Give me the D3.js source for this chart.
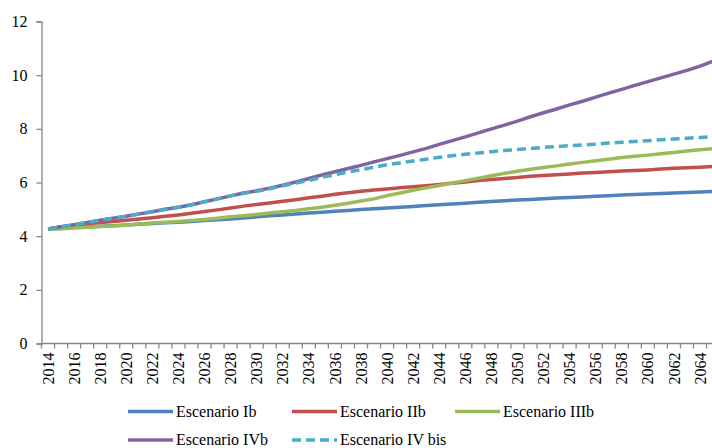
<!DOCTYPE html>
<html>
<head>
<meta charset="utf-8">
<script src="https://cdn.jsdelivr.net/npm/d3@7/dist/d3.min.js"></script>
<style>
  html, body { margin: 0; padding: 0; background: #fff; }
  svg { display: block; }
  text { font-family: "Liberation Serif", "Times New Roman", serif; fill: #000; }
</style>
</head>
<body>
<svg id="chart" width="712" height="448"></svg>
<script>
// Years on the horizontal axis (one band per year)
const years = d3.range(2014, 2066);

// Tick values on the vertical axis
const yTicks = [0, 2, 4, 6, 8, 10, 12];

// Series names as shown in the legend
const seriesNames = ["Escenario Ib", "Escenario IIb", "Escenario IIIb", "Escenario IVb", "Escenario IV bis"];

const escenarioIb = [
  4.27, 4.29, 4.32, 4.34, 4.37, 4.39, 4.42, 4.44, 4.47, 4.50,
  4.52, 4.55, 4.58, 4.61, 4.64, 4.68, 4.72, 4.76, 4.79, 4.83,
  4.86, 4.89, 4.93, 4.96, 4.99, 5.02, 5.05, 5.08, 5.11, 5.14,
  5.17, 5.20, 5.23, 5.26, 5.29, 5.32, 5.35, 5.37, 5.39, 5.42,
  5.44, 5.46, 5.49, 5.51, 5.53, 5.55, 5.57, 5.59, 5.61, 5.63,
  5.65, 5.67
];

const escenarioIIb = [
  4.27, 4.34, 4.40, 4.46, 4.51, 4.55, 4.59, 4.64, 4.69, 4.74,
  4.79, 4.85, 4.92, 4.98, 5.05, 5.12, 5.18, 5.24, 5.30, 5.36,
  5.43, 5.49, 5.56, 5.62, 5.67, 5.72, 5.76, 5.80, 5.84, 5.88,
  5.93, 5.97, 6.02, 6.07, 6.11, 6.15, 6.19, 6.23, 6.26, 6.29,
  6.32, 6.35, 6.37, 6.40, 6.43, 6.45, 6.47, 6.50, 6.53, 6.55,
  6.57, 6.60
];

const escenarioIIIb = [
  4.27, 4.28, 4.30, 4.33, 4.36, 4.38, 4.41, 4.45, 4.49, 4.52,
  4.55, 4.58, 4.62, 4.67, 4.72, 4.76, 4.81, 4.86, 4.91, 4.96,
  5.02, 5.08, 5.15, 5.23, 5.31, 5.39, 5.51, 5.61, 5.71, 5.80,
  5.89, 5.98, 6.07, 6.16, 6.25, 6.34, 6.42, 6.49, 6.56, 6.62,
  6.69, 6.75, 6.81, 6.87, 6.93, 6.98, 7.02, 7.07, 7.12, 7.17,
  7.22, 7.26
];

const escenarioIVb = [
  4.27, 4.35, 4.43, 4.51, 4.59, 4.67, 4.74, 4.83, 4.91, 5.00,
  5.08, 5.17, 5.28, 5.39, 5.50, 5.61, 5.69, 5.79, 5.90, 6.02,
  6.15, 6.28, 6.40, 6.52, 6.64, 6.77, 6.89, 7.01, 7.14, 7.27,
  7.42, 7.56, 7.70, 7.85, 8.00, 8.14, 8.29, 8.45, 8.60, 8.74,
  8.89, 9.03, 9.18, 9.33, 9.47, 9.62, 9.76, 9.90, 10.04, 10.18,
  10.34, 10.52
];

const escenarioIVbis = [
  4.27, 4.35, 4.43, 4.51, 4.59, 4.67, 4.74, 4.83, 4.91, 5.00,
  5.08, 5.17, 5.28, 5.39, 5.50, 5.60, 5.67, 5.77, 5.88, 5.98,
  6.08, 6.19, 6.29, 6.39, 6.48, 6.57, 6.66, 6.73, 6.80, 6.87,
  6.94, 7.00, 7.05, 7.10, 7.15, 7.19, 7.23, 7.27, 7.31, 7.34,
  7.37, 7.40, 7.43, 7.47, 7.50, 7.53, 7.56, 7.59, 7.62, 7.65,
  7.68, 7.70
];

const seriesValues = [escenarioIb, escenarioIIb, escenarioIIIb, escenarioIVb, escenarioIVbis];
const seriesColors = ["#4F81BD", "#C0504D", "#9BBB59", "#8064A2", "#4BACC6"];
const seriesDash = [null, null, null, null, "9,5"];

const svg = d3.select("#chart");

const plotLeft = 41.5, plotTop = 21.5, plotBottom = 343.5;
const band = 13.04;

const x = d3.scaleBand()
  .domain(years)
  .range([plotLeft, plotLeft + band * years.length])
  .padding(0);

const y = d3.scaleLinear()
  .domain([0, 12])
  .range([plotBottom, plotTop]);

const axisColor = "#868686";

// Vertical axis
const yAxis = svg.append("g")
  .attr("transform", `translate(${plotLeft},0)`)
  .call(d3.axisLeft(y).tickValues(yTicks).tickSize(5).tickPadding(9).tickFormat(d3.format("d")));
yAxis.select(".domain").attr("stroke", axisColor).attr("stroke-width", 1.3);
yAxis.selectAll(".tick line").attr("stroke", axisColor).attr("stroke-width", 1.3);
yAxis.selectAll(".tick text")
  .style("font-family", '"Liberation Serif", "Times New Roman", serif')
  .style("font-size", "16px")
  .attr("fill", "#000");

// Horizontal axis: ticks at band boundaries, labels every second year
const xAxisG = svg.append("g").attr("class", "x-axis");
xAxisG.append("line")
  .attr("x1", plotLeft).attr("x2", plotLeft + band * years.length)
  .attr("y1", plotBottom).attr("y2", plotBottom)
  .attr("stroke", axisColor).attr("stroke-width", 1.3);

const boundaries = years.map(yr => x(yr)).concat([x(years[years.length - 1]) + x.bandwidth()]);
xAxisG.selectAll("line.tick")
  .data(boundaries)
  .join("line")
  .attr("class", "tick")
  .attr("x1", d => d).attr("x2", d => d)
  .attr("y1", plotBottom).attr("y2", plotBottom + 5)
  .attr("stroke", axisColor).attr("stroke-width", 1.3);

const labelYears = years.filter(yr => (yr - 2014) % 2 === 0);
xAxisG.selectAll("text")
  .data(labelYears)
  .join("text")
  .attr("transform", d => `translate(${x(d) + x.bandwidth() / 2},${plotBottom + 9}) rotate(-90)`)
  .attr("text-anchor", "end")
  .attr("dy", "0.35em")
  .style("font-size", "16px")
  .text(d => d);

// Series lines
const line = d3.line()
  .x((d, i) => x(years[i]) + x.bandwidth() / 2)
  .y(d => y(d));

// IVb is drawn beneath the dashed IV bis
svg.append("g")
  .selectAll("path")
  .data(d3.range(seriesValues.length))
  .join("path")
  .attr("d", i => line(seriesValues[i]))
  .attr("fill", "none")
  .attr("stroke", i => seriesColors[i])
  .attr("stroke-width", 3.5)
  .attr("stroke-linejoin", "round")
  .attr("stroke-dasharray", i => seriesDash[i]);

// Legend: two rows
const legendPos = [
  { x: 128, y: 411.5 },
  { x: 292, y: 411.5 },
  { x: 455, y: 411.5 },
  { x: 128, y: 440 },
  { x: 292, y: 440 }
];

const legend = svg.append("g")
  .selectAll("g")
  .data(seriesNames)
  .join("g")
  .attr("transform", (d, i) => `translate(${legendPos[i].x},${legendPos[i].y})`);

legend.append("line")
  .attr("x1", 0).attr("x2", 45)
  .attr("y1", 0).attr("y2", 0)
  .attr("stroke", (d, i) => seriesColors[i])
  .attr("stroke-width", 3.5)
  .attr("stroke-dasharray", (d, i) => seriesDash[i]);

legend.append("text")
  .attr("x", 48)
  .attr("y", 0)
  .attr("dy", "0.33em")
  .style("font-size", "16px")
  .text(d => d);
</script>
</body>
</html>
